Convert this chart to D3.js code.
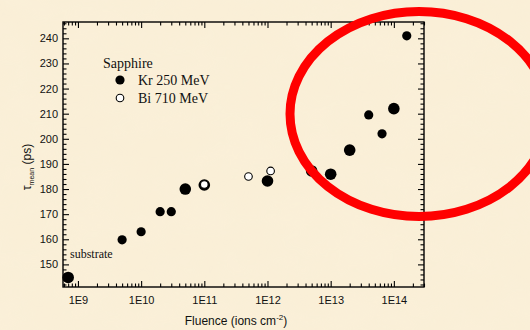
<!DOCTYPE html>
<html>
<head>
<meta charset="utf-8">
<script src="https://cdn.jsdelivr.net/npm/d3@7"></script>
<style>
  html, body { margin: 0; padding: 0; background: #FAEFD7; }
  svg { display: block; }
</style>
</head>
<body>
<svg id="chart" width="530" height="330"></svg>
<script>
// Mean positron lifetime in sapphire versus ion fluence
const krFluence = [7e8, 5e9, 1e10, 2e10, 3e10, 5e10, 1e11, 1e12, 5e12, 1e13, 2e13, 4e13, 6.5e13, 1e14, 1.6e14];
const krTau     = [144.8, 159.8, 163, 171, 171, 180, 181.6, 183.2, 187.2, 185.9, 195.5, 209.5, 202, 212, 241];
const krBig     = [true, false, false, false, false, true, true, true, true, true, true, false, false, true, false];

const biFluence = [1e11, 5e11, 1.12e12];
const biTau     = [181.8, 185, 187.2];

const xTickValues = [1e9, 1e10, 1e11, 1e12, 1e13, 1e14];
const xTickLabels = ["1E9", "1E10", "1E11", "1E12", "1E13", "1E14"];
const yTickValues = [150, 160, 170, 180, 190, 200, 210, 220, 230, 240];

const legendTitle = "Sapphire";
const legendLabels = ["Kr 250 MeV", "Bi 710 MeV"];

const svg = d3.select("#chart");
const W = 530, H = 330;
const m = { left: 63, right: 424, top: 22, bottom: 287 };

// Parchment-like backdrop
const defs = svg.append("defs");
const f = defs.append("filter").attr("id", "paper").attr("x", 0).attr("y", 0).attr("width", "100%").attr("height", "100%");
f.append("feTurbulence").attr("type", "fractalNoise").attr("baseFrequency", "0.018 0.03").attr("numOctaves", 3).attr("seed", 7).attr("result", "n");
f.append("feColorMatrix").attr("in", "n").attr("type", "matrix")
  .attr("values", "0 0 0 0 0.96  0 0 0 0 0.90  0 0 0 0 0.76  0 0 0 0.35 -0.08");
svg.append("rect").attr("width", W).attr("height", H).attr("fill", "#FAEFD7");
svg.append("rect").attr("width", W).attr("height", H).attr("filter", "url(#paper)").attr("opacity", 0.5);

const x = d3.scaleLog().domain([5.8e8, 3e14]).range([m.left, m.right]);
const y = d3.scaleLinear().domain([141, 246.5]).range([m.bottom, m.top]);

// Minor tick positions
const xMinor = [];
for (let e = 8; e <= 14; e++) {
  for (let k = 2; k <= 9; k++) {
    const v = k * Math.pow(10, e);
    if (v >= x.domain()[0] && v <= x.domain()[1]) xMinor.push(v);
  }
}
const yMinor = d3.range(142, 247, 2).filter(v => v % 10 !== 0);

const MAJ = 6, MIN = 3.5;
const tickFont = "Liberation Sans, Arial, sans-serif";
const serif = "Liberation Serif, 'Times New Roman', serif";

function styleAxis(g) {
  g.select(".domain").remove();
  g.selectAll(".tick line").attr("stroke", "#000").attr("stroke-width", 1.1);
  g.selectAll(".tick text").attr("font-family", tickFont).attr("font-size", 11).attr("fill", "#111");
}

// Bottom axis (labelled) and top mirror
svg.append("g").attr("transform", `translate(0,${m.bottom})`)
  .call(d3.axisBottom(x).tickValues(xTickValues).tickSize(-MAJ).tickPadding(9)
    .tickFormat((d, i) => xTickLabels[i]))
  .call(styleAxis);
svg.append("g").attr("transform", `translate(0,${m.bottom})`)
  .call(d3.axisBottom(x).tickValues(xMinor).tickSize(-MIN).tickFormat(""))
  .call(styleAxis);
svg.append("g").attr("transform", `translate(0,${m.top})`)
  .call(d3.axisTop(x).tickValues(xTickValues).tickSize(-MAJ).tickFormat(""))
  .call(styleAxis);
svg.append("g").attr("transform", `translate(0,${m.top})`)
  .call(d3.axisTop(x).tickValues(xMinor).tickSize(-MIN).tickFormat(""))
  .call(styleAxis);

// Left axis (labelled) and right mirror
svg.append("g").attr("transform", `translate(${m.left},0)`)
  .call(d3.axisLeft(y).tickValues(yTickValues).tickSize(-MAJ).tickPadding(5))
  .call(styleAxis);
svg.append("g").attr("transform", `translate(${m.left},0)`)
  .call(d3.axisLeft(y).tickValues(yMinor).tickSize(-MIN).tickFormat(""))
  .call(styleAxis);
svg.append("g").attr("transform", `translate(${m.right},0)`)
  .call(d3.axisRight(y).tickValues(yTickValues).tickSize(-MAJ).tickFormat(""))
  .call(styleAxis);
svg.append("g").attr("transform", `translate(${m.right},0)`)
  .call(d3.axisRight(y).tickValues(yMinor).tickSize(-MIN).tickFormat(""))
  .call(styleAxis);

// Plot frame
svg.append("rect")
  .attr("x", m.left).attr("y", m.top)
  .attr("width", m.right - m.left).attr("height", m.bottom - m.top)
  .attr("fill", "none").attr("stroke", "#000").attr("stroke-width", 1.4);

// Axis titles
svg.append("text")
  .attr("x", 236).attr("y", 325)
  .attr("text-anchor", "middle")
  .attr("font-family", tickFont).attr("font-size", 12).attr("fill", "#111")
  .call(t => {
    t.append("tspan").text("Fluence (ions cm");
    t.append("tspan").attr("font-size", 8).attr("dy", -5).text("-2");
    t.append("tspan").attr("dy", 5).text(")");
  });

svg.append("text")
  .attr("transform", "translate(31,167) rotate(-90)")
  .attr("text-anchor", "middle")
  .attr("font-family", tickFont).attr("font-size", 12).attr("fill", "#111")
  .call(t => {
    t.append("tspan").text("\u03C4");
    t.append("tspan").attr("font-size", 7).attr("dy", 3).text("mean");
    t.append("tspan").attr("dy", -3).text(" (ps)");
  });

// Data points
const kr = krFluence.map((f, i) => ({ f, t: krTau[i], big: krBig[i] }));
const bi = biFluence.map((f, i) => ({ f, t: biTau[i] }));

svg.append("g").selectAll("circle").data(kr).join("circle")
  .attr("cx", d => x(d.f)).attr("cy", d => y(d.t))
  .attr("r", d => d.big ? 5.8 : 4.6)
  .attr("fill", "#000");

svg.append("g").selectAll("circle").data(bi).join("circle")
  .attr("cx", d => x(d.f)).attr("cy", d => y(d.t))
  .attr("r", 3.8)
  .attr("fill", "#fff").attr("stroke", "#000").attr("stroke-width", 1.1);

// Annotation for the unirradiated point
svg.append("text")
  .attr("x", 70).attr("y", 258)
  .attr("font-family", serif)
  .attr("font-size", 12).attr("fill", "#111")
  .text("substrate");

// Legend
svg.append("text").attr("x", 103).attr("y", 68)
  .attr("font-family", serif).attr("font-size", 14).attr("fill", "#111").text(legendTitle);
svg.append("circle").attr("cx", 120).attr("cy", 80).attr("r", 4.6).attr("fill", "#000");
svg.append("circle").attr("cx", 120).attr("cy", 98).attr("r", 3.8)
  .attr("fill", "#fff").attr("stroke", "#000").attr("stroke-width", 1.1);
svg.append("text").attr("x", 138).attr("y", 85)
  .attr("font-family", serif).attr("font-size", 14).attr("fill", "#111").text(legendLabels[0]);
svg.append("text").attr("x", 138).attr("y", 103)
  .attr("font-family", serif).attr("font-size", 14).attr("fill", "#111").text(legendLabels[1]);

// Highlight around the high-fluence points
svg.append("ellipse")
  .attr("cx", 419).attr("cy", 114)
  .attr("rx", 129).attr("ry", 102.5)
  .attr("fill", "none").attr("stroke", "#FF0000").attr("stroke-width", 9);
</script>
</body>
</html>
